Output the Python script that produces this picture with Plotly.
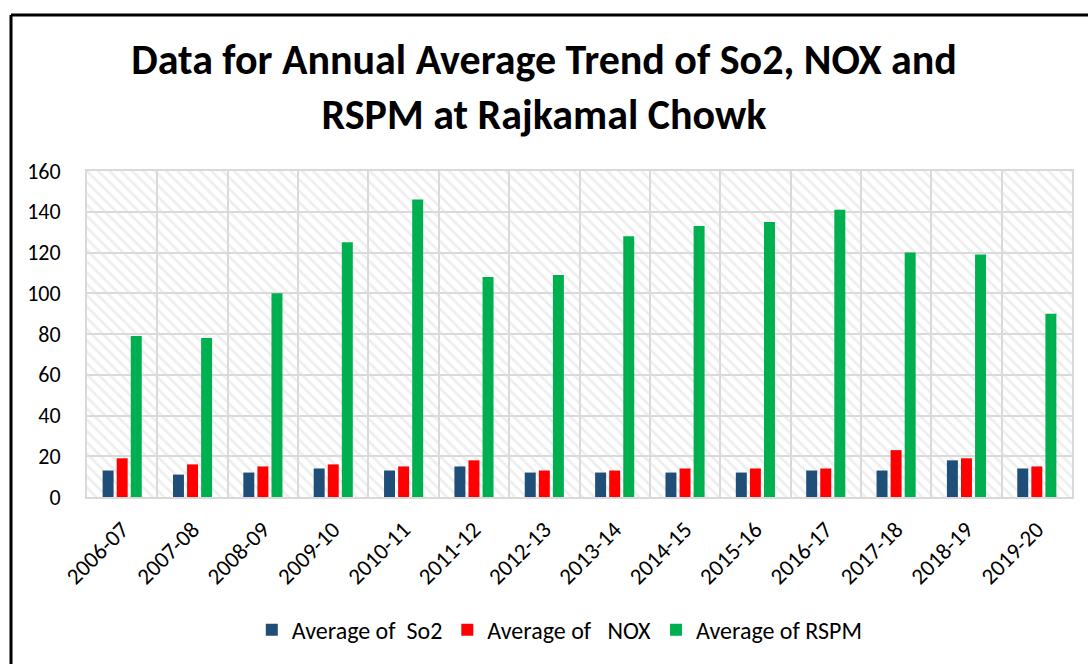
import plotly.graph_objects as go

years = ["2006-07", "2007-08", "2008-09", "2009-10", "2010-11", "2011-12", "2012-13",
         "2013-14", "2014-15", "2015-16", "2016-17", "2017-18", "2018-19", "2019-20"]
so2 = [13, 11, 12, 14, 13, 15, 12, 12, 12, 12, 13, 13, 18, 14]
nox = [19, 16, 15, 16, 15, 18, 13, 13, 14, 14, 14, 23, 19, 15]
rspm = [79, 78, 100, 125, 146, 108, 109, 128, 133, 135, 141, 120, 119, 90]

FONT = "Carlito, Lato, 'Liberation Sans', sans-serif"
NB = "\u00a0"
Y_MAX = 160

fig = go.Figure()

# hatched plot-area background (decorative) on base axes
fig.add_trace(go.Bar(
    x=[0.5], y=[Y_MAX], width=[1], xaxis="x", yaxis="y",
    marker=dict(color="rgba(0,0,0,0)", line=dict(width=0),
                pattern=dict(shape="\\", fgcolor="#dedede", bgcolor="rgba(0,0,0,0)",
                             size=8, solidity=0.35)),
    showlegend=False, hoverinfo="skip"))

series = [
    ("Average of" + NB + NB + "So2", so2, "#1F4E79"),
    ("Average of" + NB + NB + NB + "NOX", nox, "#FF0000"),
    ("Average of RSPM", rspm, "#00B050"),
]
for name, vals, col in series:
    fig.add_trace(go.Bar(x=years, y=vals, name=name, xaxis="x2", yaxis="y2",
                         marker=dict(color=col, line=dict(width=0))))

ml, mr, mt, mb = 87, 16, 171, 165
W, H = 1088, 664
pw, ph = W - ml - mr, H - mt - mb

def px_to_paper_x(px):
    return (px - ml) / pw

def px_to_paper_y(py):
    return (H - mb - py) / ph

fig.update_layout(
    width=W, height=H,
    margin=dict(l=ml, r=mr, t=mt, b=mb),
    paper_bgcolor="white", plot_bgcolor="white",
    font=dict(family=FONT, size=22, color="black"),
    title=dict(text="<b>Data for Annual Average Trend of So2, NOX and<br>RSPM at Rajkamal Chowk</b>",
               x=0.5, xanchor="center", y=1 - 74 / H, yanchor="middle",
               font=dict(family=FONT, size=42, color="black")),
    barmode="group", bargap=0.4, bargroupgap=0.22,
    xaxis=dict(range=[0, 1], visible=False, fixedrange=True),
    yaxis=dict(range=[0, Y_MAX], visible=False, fixedrange=True),
    xaxis2=dict(overlaying="x", side="bottom", type="category", categoryorder="array",
                categoryarray=years, tickangle=-45, tickson="boundaries",
                showgrid=True, gridcolor="#d9d9d9", gridwidth=2,
                showline=True, linecolor="#d9d9d9", linewidth=2, mirror=True,
                ticks="", ticklabelstandoff=8, tickfont=dict(size=23),
                range=[-0.5, len(years) - 0.5]),
    yaxis2=dict(overlaying="y", side="left", range=[0, Y_MAX], dtick=20,
                showgrid=True, gridcolor="#d9d9d9", gridwidth=2,
                showline=True, linecolor="#d9d9d9", linewidth=2, mirror=True,
                zeroline=False, ticks="", ticklabelstandoff=20, tickfont=dict(size=22)),
    legend=dict(orientation="h", x=0.48, xanchor="center", y=px_to_paper_y(633), yanchor="middle",
                font=dict(size=24), traceorder="normal", itemwidth=30),
    shapes=[
        dict(type="line", xref="paper", yref="paper",
             x0=px_to_paper_x(11), x1=px_to_paper_x(1095),
             y0=px_to_paper_y(14), y1=px_to_paper_y(14),
             line=dict(color="black", width=3)),
        dict(type="line", xref="paper", yref="paper",
             x0=px_to_paper_x(11), x1=px_to_paper_x(11),
             y0=px_to_paper_y(14), y1=px_to_paper_y(670),
             line=dict(color="black", width=3)),
    ],
)

fig.write_html("out.html", config={"displayModeBar": False},
               post_script="document.body.style.margin='0';document.body.style.overflow='hidden';")
